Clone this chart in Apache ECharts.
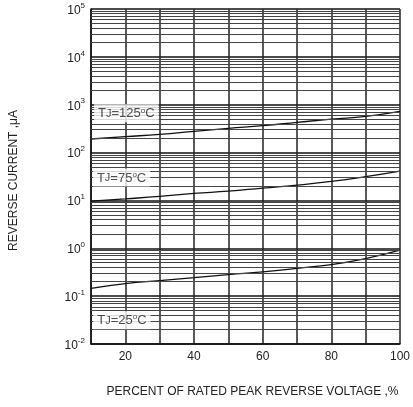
<!DOCTYPE html>
<html><head><meta charset="utf-8">
<script src="https://cdn.jsdelivr.net/npm/echarts@6/dist/echarts.min.js"></script>
<style>html,body{margin:0;padding:0;background:#fff;}#c{width:413px;height:407px;}</style>
</head><body><div id="c"></div>
<script>
const xValues = [10, 20, 30, 40, 50, 60, 70, 80, 90, 100];
const i125 = [192, 215, 240, 277, 320, 365, 427, 500, 570, 725];
const i75 = [9.7, 10.8, 12.1, 14.0, 15.6, 18.1, 20.9, 24.9, 31.3, 40.9];
const i25 = [0.146, 0.183, 0.212, 0.244, 0.282, 0.32, 0.382, 0.457, 0.61, 0.91];
const xTickLabels = [20, 40, 60, 80, 100];
const yExponents = [-2, -1, 0, 1, 2, 3, 4, 5];
const curveLabels = [
  { temp: '125', x: 20.3, y: 660 },
  { temp: '75', x: 18.9, y: 30 },
  { temp: '25', x: 19.0, y: 0.0314 }
];

const FONT = 'Liberation Sans, Arial, sans-serif';
const minorVals = [];
for (let e = yExponents[0]; e < yExponents[yExponents.length - 1]; e++) {
  for (let m = 2; m <= 9; m++) minorVals.push(m * Math.pow(10, e));
}

const chart = echarts.init(document.getElementById('c'), null, { renderer: 'canvas' });
const mk = v => xValues.map((x, i) => [x, v[i]]);
const curveStyle = { color: '#111', width: 1.3 };

chart.setOption({
  animation: false,
  backgroundColor: '#fff',
  grid: { left: 88, right: 7, top: 9, bottom: 63, containLabel: false },
  xAxis: {
    type: 'value', min: 10, max: 100, interval: 10,
    axisLine: { show: true, lineStyle: { color: '#111', width: 1.5 } },
    axisTick: { show: false },
    splitLine: { show: true, lineStyle: { color: '#222', width: 1.5 } },
    axisLabel: {
      color: '#222', fontFamily: FONT, fontSize: 12, margin: 7,
      formatter: v => xTickLabels.indexOf(v) >= 0 ? String(v) : ''
    },
    name: 'PERCENT OF RATED PEAK REVERSE VOLTAGE ,%',
    nameLocation: 'middle', nameGap: 42,
    nameTextStyle: { color: '#222', fontFamily: FONT, fontSize: 12, padding: [0, 0, 0, 14] }
  },
  yAxis: {
    type: 'log', logBase: 10, min: 0.01, max: 100000,
    axisLine: { show: true, lineStyle: { color: '#111', width: 1.5 } },
    axisTick: { show: false },
    splitLine: { show: true, lineStyle: { color: '#111', width: 1.5 } },
    axisLabel: {
      margin: 6,
      formatter: v => {
        const e = Math.round(Math.log10(v));
        return '{b|10}{s|' + e + '}';
      },
      rich: {
        b: { fontFamily: FONT, fontSize: 12, color: '#222', verticalAlign: 'bottom' },
        s: { fontFamily: FONT, fontSize: 8, color: '#222', verticalAlign: 'top', padding: [0, 0, 7, 0] }
      }
    },
    name: 'REVERSE CURRENT ,\u03bcA',
    nameLocation: 'middle', nameGap: 71, nameRotate: 90,
    nameTextStyle: { color: '#222', fontFamily: FONT, fontSize: 12, padding: [0, 8, 0, 0] }
  },
  series: [
    {
      type: 'line', data: [], silent: true, z: 1,
      markLine: {
        silent: true, symbol: 'none', animation: false,
        label: { show: false },
        lineStyle: { color: '#444', width: 1, type: 'solid' },
        data: minorVals.map(v => ({ yAxis: v }))
      }
    },
    { type: 'line', data: mk(i125), smooth: true, symbol: 'none', lineStyle: curveStyle, z: 3 },
    { type: 'line', data: mk(i75), smooth: true, symbol: 'none', lineStyle: curveStyle, z: 3 },
    { type: 'line', data: mk(i25), smooth: true, symbol: 'none', lineStyle: curveStyle, z: 3 },
    {
      type: 'scatter', symbolSize: 0, z: 5, silent: true,
      data: curveLabels.map(l => ({ value: [l.x, l.y], t: l.temp })),
      label: {
        show: true, position: 'inside',
        backgroundColor: '#fff', padding: [2, 4, 1, 4],
        formatter: p => '{t|T}{j|J}{t|=' + p.data.t + '}{o|o}{t|C}',
        rich: {
          t: { fontFamily: FONT, fontSize: 13, color: '#222' },
          j: { fontFamily: FONT, fontSize: 11, color: '#222' },
          o: { fontFamily: FONT, fontSize: 8, color: '#222', verticalAlign: 'top', padding: [0, 0, 7, 0] }
        }
      }
    }
  ]
});
</script></body></html>
